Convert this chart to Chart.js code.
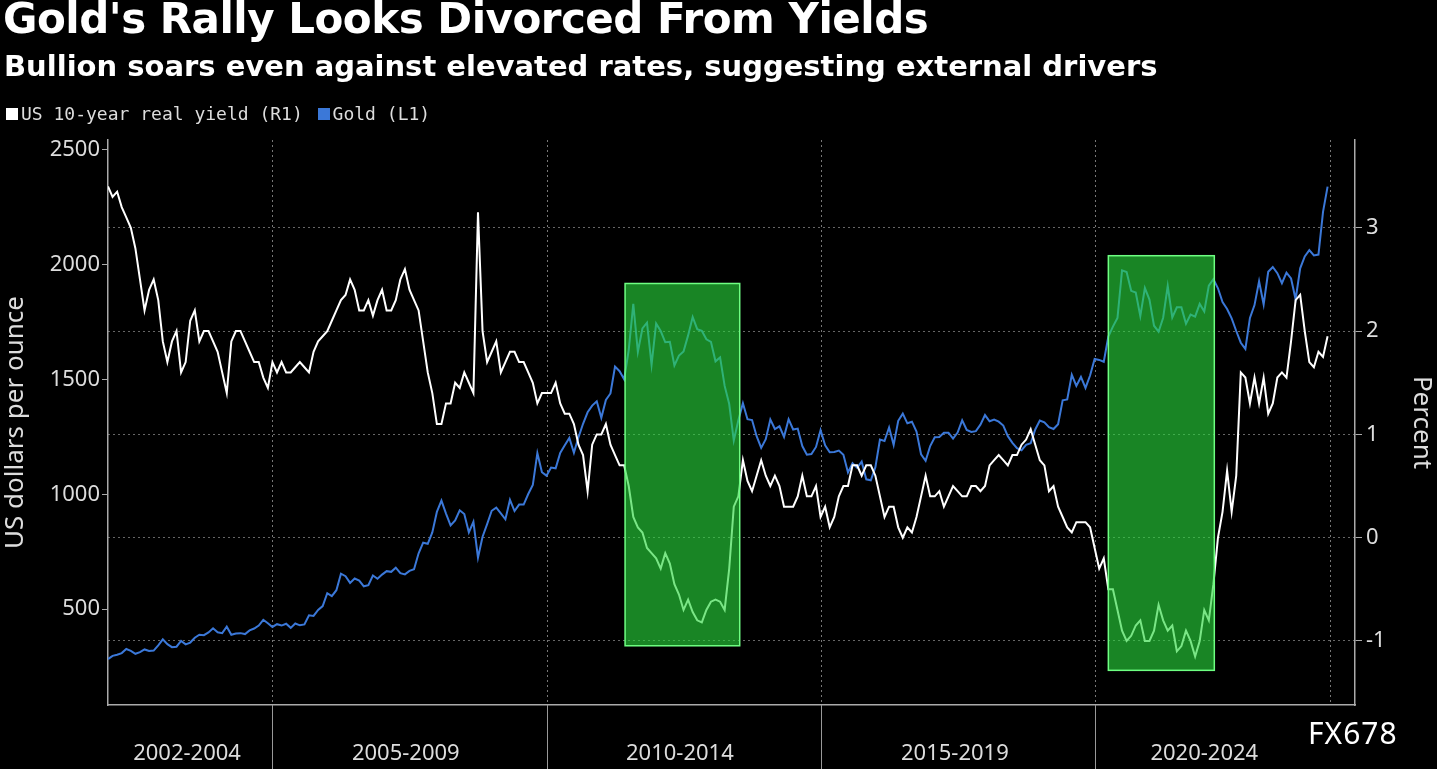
<!DOCTYPE html>
<html><head><meta charset="utf-8">
<script src="https://cdn.jsdelivr.net/npm/chart.js@4"></script>
<style>
html,body{margin:0;padding:0;background:#000;width:1437px;height:769px;overflow:hidden;font-family:"Noto Sans",sans-serif;}
#wrap{position:absolute;left:0;top:0;width:1437px;height:769px;}
.t{position:absolute;color:#fff;white-space:nowrap;}
</style></head><body>
<div id="wrap"><canvas id="c" width="1437" height="769"></canvas></div>
<div class="t" style="left:3px;top:-6px;font-size:42px;font-weight:bold;font-family:'DejaVu Sans';letter-spacing:-0.5px">Gold's Rally Looks Divorced From Yields</div>
<div class="t" style="left:4px;top:49px;font-size:29px;font-weight:bold;font-family:'DejaVu Sans';letter-spacing:0px">Bullion soars even against elevated rates, suggesting external drivers</div>
<div class="t" style="left:6px;top:103px;font-size:18px;color:#ddd;font-family:'DejaVu Sans Mono'"><span style="display:inline-block;width:12px;height:12px;background:#fff;margin-right:3px"></span>US 10-year real yield (R1) <span style="display:inline-block;width:12px;height:12px;background:#3b78d8;margin:0 3px 0 4px"></span>Gold (L1)</div>
<div class="t" style="left:1308px;top:712px;font-size:30px;letter-spacing:1px">FX678</div>
<script>
const periodLabels=["2002-2004","2005-2009","2010-2014","2015-2019","2020-2024"];
const periodCenters=[17.3,65.2,125.2,185.4,240];
const periodBounds=[36,96,156,216];
const leftTicks=[500,1000,1500,2000,2500];
const rightTicks=[-1,0,1,2,3];
const gold=[282,296,301,308,326,318,305,312,324,317,319,342,
368,347,334,336,361,346,354,375,388,386,398,416,
399,395,423,388,393,395,391,407,415,428,453,438,
422,434,428,436,418,437,429,433,473,470,496,513,
569,556,582,654,643,614,633,624,599,604,646,632,
650,665,662,680,656,651,666,673,743,789,784,834,
923,972,916,864,886,930,914,834,880,724,815,870,
928,942,917,891,976,927,955,955,1001,1040,1179,1096,
1081,1116,1113,1180,1213,1245,1181,1248,1307,1357,1386,1405,
1333,1411,1439,1556,1536,1501,1628,1829,1620,1722,1747,1564,
1744,1711,1662,1664,1561,1604,1622,1692,1772,1719,1712,1675,
1664,1579,1596,1472,1393,1234,1322,1396,1327,1323,1253,1202,
1240,1326,1284,1296,1250,1327,1282,1286,1210,1172,1175,1206,
1279,1213,1183,1184,1190,1172,1095,1135,1115,1142,1065,1061,
1118,1238,1232,1291,1215,1320,1351,1309,1316,1273,1174,1146,
1210,1248,1249,1268,1268,1242,1269,1322,1280,1271,1275,1303,
1345,1318,1325,1316,1299,1253,1224,1201,1192,1215,1222,1282,
1321,1313,1292,1284,1305,1409,1413,1520,1472,1511,1463,1517,
1589,1585,1577,1687,1730,1768,1975,1968,1886,1879,1776,1898,
1848,1734,1708,1769,1907,1770,1814,1814,1743,1783,1774,1829,
1796,1909,1937,1897,1837,1807,1766,1711,1660,1633,1768,1824,
1928,1827,1969,1990,1963,1919,1965,1940,1849,1984,2036,2063,
2040,2044,2230,2340];
const realYield=[3.4,3.3,3.35,3.2,3.1,3.0,2.8,2.5,2.2,2.4,2.5,2.3,
1.9,1.7,1.9,2.0,1.6,1.7,2.1,2.2,1.9,2.0,2.0,1.9,
1.8,1.6,1.4,1.9,2.0,2.0,1.9,1.8,1.7,1.7,1.55,1.45,
1.7,1.6,1.7,1.6,1.6,1.65,1.7,1.65,1.6,1.8,1.9,1.95,
2.0,2.1,2.2,2.3,2.35,2.5,2.4,2.2,2.2,2.3,2.15,2.3,
2.4,2.2,2.2,2.3,2.5,2.6,2.4,2.3,2.2,1.9,1.6,1.4,
1.1,1.1,1.3,1.3,1.5,1.45,1.6,1.5,1.4,3.15,2.0,1.7,
1.8,1.9,1.6,1.7,1.8,1.8,1.7,1.7,1.6,1.5,1.3,1.4,
1.4,1.4,1.5,1.3,1.2,1.2,1.1,0.9,0.8,0.45,0.9,1.0,
1.0,1.1,0.9,0.8,0.7,0.7,0.5,0.2,0.1,0.05,-0.1,-0.15,
-0.2,-0.3,-0.15,-0.25,-0.45,-0.55,-0.7,-0.6,-0.72,-0.8,-0.82,-0.7,
-0.62,-0.6,-0.62,-0.7,-0.3,0.3,0.4,0.75,0.55,0.45,0.6,0.75,
0.6,0.5,0.6,0.5,0.3,0.3,0.3,0.4,0.6,0.4,0.4,0.5,
0.2,0.3,0.1,0.2,0.4,0.5,0.5,0.7,0.7,0.6,0.7,0.7,
0.6,0.4,0.2,0.3,0.3,0.1,0.0,0.1,0.05,0.2,0.4,0.6,
0.4,0.4,0.45,0.3,0.4,0.5,0.45,0.4,0.4,0.5,0.5,0.45,
0.5,0.7,0.75,0.8,0.75,0.7,0.8,0.8,0.9,0.95,1.05,0.9,
0.75,0.7,0.45,0.5,0.3,0.2,0.1,0.05,0.15,0.15,0.15,0.1,
-0.1,-0.3,-0.2,-0.5,-0.5,-0.7,-0.9,-1.0,-0.95,-0.85,-0.8,-1.0,
-1.0,-0.9,-0.65,-0.8,-0.9,-0.85,-1.1,-1.05,-0.9,-1.0,-1.15,-1.0,
-0.7,-0.8,-0.45,0.0,0.25,0.65,0.25,0.6,1.6,1.55,1.3,1.55,
1.3,1.55,1.2,1.3,1.55,1.6,1.55,1.9,2.3,2.35,2.0,1.7,
1.65,1.8,1.75,1.95];
const boxes=[{x0:113.2,x1:138.3,y0:340,y1:1918},{x0:219,x1:242.2,y0:233,y1:2039}];
const months=gold.map((_,i)=>i);

const deco={id:'deco',
 beforeDatasetsDraw(ch){const {ctx,chartArea:a,scales:{x}}=ch;ctx.save();
  ctx.strokeStyle='#777';ctx.lineWidth=1;ctx.setLineDash([2,3]);
  [...periodBounds,267.5].forEach(v=>{const p=Math.round(x.getPixelForValue(v))+0.5;ctx.beginPath();ctx.moveTo(p,a.top);ctx.lineTo(p,a.bottom);ctx.stroke();});
  ctx.setLineDash([]);ctx.strokeStyle='#999';
  periodBounds.forEach(v=>{const p=Math.round(x.getPixelForValue(v))+0.5;ctx.beginPath();ctx.moveTo(p,a.bottom);ctx.lineTo(p,ch.height);ctx.stroke();});
  ctx.restore();},
 afterDatasetsDraw(ch){const {ctx,scales:{x,y}}=ch;ctx.save();
  boxes.forEach(b=>{const l=x.getPixelForValue(b.x0),r=x.getPixelForValue(b.x1),t=y.getPixelForValue(b.y1),bt=y.getPixelForValue(b.y0);
   ctx.fillStyle='rgba(40,215,60,0.62)';ctx.fillRect(l,t,r-l,bt-t);ctx.strokeStyle='rgb(110,255,130)';ctx.lineWidth=1.5;ctx.strokeRect(l,t,r-l,bt-t);});
  ctx.restore();}};

new Chart(document.getElementById('c'),{type:'line',
 data:{labels:months,datasets:[
  {data:realYield.map((v,i)=>({x:i,y:v})),yAxisID:'y1',borderColor:'#fff',borderWidth:2,pointRadius:0,tension:0},
  {data:gold.map((v,i)=>({x:i,y:v})),yAxisID:'y',borderColor:'#3b78d8',borderWidth:2,pointRadius:0,tension:0}]},
 options:{responsive:false,animation:false,layout:{padding:{top:140,left:0,right:0,bottom:0}},
  plugins:{legend:{display:false},tooltip:{enabled:false}},
  scales:{
   x:{type:'linear',min:0,max:273,
    afterFit(s){s.height=64;},
    afterBuildTicks(s){s.ticks=periodCenters.map(v=>({value:v}));},
    ticks:{color:'#ddd',font:{size:22,family:'Noto Sans'},maxRotation:0,autoSkip:false,padding:28,callback:(v,i)=>periodLabels[i]},
    grid:{display:false},border:{color:'#aaa',width:1.5}},
   y:{position:'left',min:82,max:2543,
    afterFit(s){s.width=108;},
    afterBuildTicks(s){s.ticks=leftTicks.map(v=>({value:v}));},
    ticks:{color:'#ddd',font:{size:22,family:'Noto Sans'},padding:2,callback:v=>String(v)},
    grid:{drawOnChartArea:false,color:'#aaa',tickLength:6},border:{color:'#aaa',width:1.5},
    title:{display:true,text:'US dollars per ounce',color:'#ddd',font:{size:26,family:'Noto Sans'},padding:{top:0,bottom:0}}},
   y1:{position:'right',min:-1.62,max:3.85,
    afterFit(s){s.width=82;},
    afterBuildTicks(s){s.ticks=rightTicks.map(v=>({value:v}));},
    ticks:{color:'#ddd',font:{size:22,family:'Noto Sans'},padding:4},
    grid:{color:'#666',tickLength:7,tickColor:'#aaa',borderDash:[2,3]},border:{color:'#aaa',width:1.5,dash:[2,3]},
    title:{display:true,text:'Percent',color:'#ddd',font:{size:26,family:'Noto Sans'},padding:{top:0,bottom:0}}}}},
 plugins:[deco]});
</script></body></html>
